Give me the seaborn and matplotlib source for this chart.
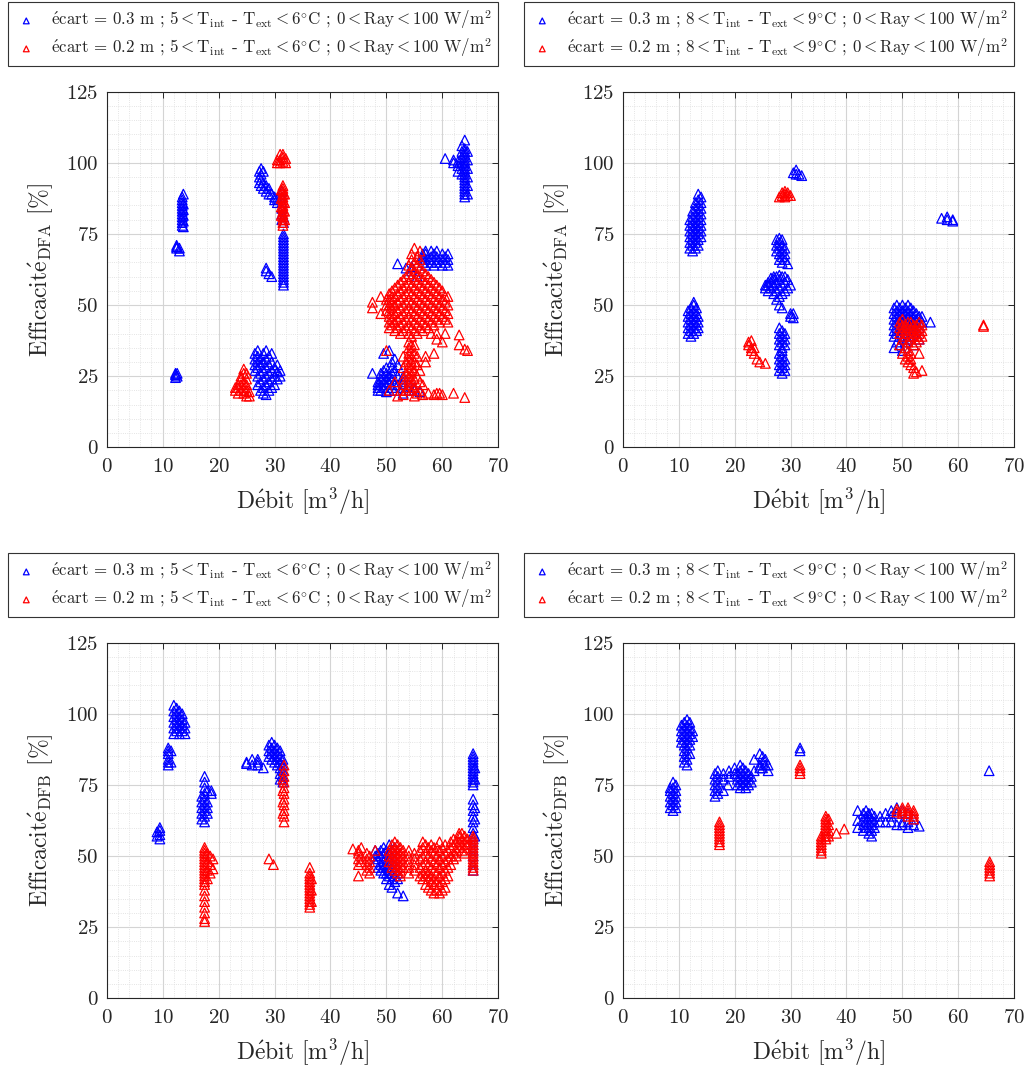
import matplotlib
matplotlib.use("Agg")
import matplotlib.pyplot as plt
from matplotlib.ticker import MultipleLocator
import pandas as pd
import seaborn as sns

# Données : (débit, [efficacités...]) par colonne de points
# DFA, 5 < Tint - Text < 6 °C
dfa_a_blue = [
    (12.3, [24.5, 25.5, 26]), (12.6, [25, 26]),
    (12.5, [70, 70.5, 71]), (13.0, [69, 70]),
    (13.5, [78, 79, 80, 81, 82, 83, 84, 85, 86, 87, 88]),
    (13.7, [77.5, 79.5, 81.5, 83.5, 85.5, 89]),
    (27.3, [97, 95, 93]), (27.6, [98, 96, 94, 92]), (28.0, [97, 93, 91]),
    (28.5, [92, 90, 62, 63]), (29.0, [91, 89, 61]), (29.5, [89, 60]),
    (30.0, [88, 87]), (30.5, [87.5, 86]),
    (31.3, [80, 82, 84, 86, 88, 90]),
    (31.6, [57, 58, 59, 60, 61, 62, 63, 64, 65, 66, 67, 68, 69, 70, 71, 72, 73, 74, 75, 79, 81]),
    (26.5, [27, 29, 31, 33]), (27.0, [22, 25, 28, 30, 32, 34]),
    (27.5, [20, 23, 26, 29, 31]), (28.0, [19, 21, 24, 27, 30, 33]),
    (28.5, [18.5, 22, 25, 28, 31, 34]), (29.0, [20, 23, 26, 29, 32]),
    (29.5, [21, 24, 27, 30, 33]), (30.0, [22, 25, 28]),
    (30.5, [24, 26.5, 29]), (31.0, [25, 27]),
    (60.5, [101.5]), (62.0, [101, 100]), (62.8, [100.5, 99, 97]),
    (63.5, [96, 98, 100, 102, 104, 106]),
    (64.0, [88, 89, 90, 91, 92, 93, 94, 95, 96, 97, 98, 99, 100, 101, 102, 103, 104, 105, 108]),
    (64.5, [89, 92, 95, 98, 101, 104]),
    (56.5, [65, 66, 67, 68]), (57.0, [64, 66, 68, 69]), (58.0, [65, 67, 69]),
    (58.5, [64, 66, 68]), (59.0, [65, 67, 69]), (60.0, [64, 66, 68]),
    (60.5, [65, 67]), (61.0, [64, 66, 68]),
    (52.0, [64.5]), (53.5, [63]), (54.5, [62, 63.5]), (55.5, [60]),
    (47.5, [26]), (48.5, [20, 21, 22, 23]), (49.0, [20, 22, 24, 26]),
    (49.5, [21, 23, 25, 27, 33]), (50.0, [19.5, 22, 24, 26, 28]),
    (50.5, [20, 23, 25, 34]), (51.0, [21, 24, 26, 28, 30]),
    (51.5, [20, 22, 27, 31]), (52.0, [22, 25, 29]),
    (53.0, [19, 21, 23, 25]), (54.0, [20, 22]), (55.0, [20, 21]), (56.0, [19.5]),
]
dfa_a_red = [
    (30.5, [101, 100]), (31.0, [103, 101, 100]), (31.5, [102, 100.5, 103]), (32.0, [101.5, 100]),
    (31.5, [78, 79, 80, 81, 82, 83, 84, 85, 86, 87, 88, 89, 90, 91, 92]),
    (31.8, [80, 83, 86, 89]), (31.2, [81.5, 84.5, 87.5, 90.5]),
    (23.0, [20, 21]), (23.5, [19, 21, 22]), (24.0, [20, 22, 24, 25]),
    (24.5, [19, 21, 23, 26, 27.5]), (25.0, [18, 20, 22, 24, 26]), (25.5, [18, 19.5]),
    (47.5, [51, 49]), (49.0, [53, 47]),
    (50.0, [34, 48, 50, 52]), (50.5, [42, 44, 46, 48, 50, 52, 54, 20]),
    (51.0, [43, 45, 47, 49, 51, 53, 55]), (51.5, [41, 44, 47, 50, 53, 56, 23]),
    (52.0, [42, 45, 48, 51, 54, 57, 18]), (52.5, [40, 43, 46, 49, 52, 55, 58, 20]),
    (53.0, [41, 44, 47, 50, 53, 56, 59, 18.5, 22, 24, 28, 32]),
    (53.5, [42, 45, 48, 51, 54, 57, 60, 20, 26, 30]),
    (54.0, [40, 43, 46, 49, 52, 55, 58, 61, 64, 21, 23, 25, 27, 29, 31, 33, 35, 37]),
    (54.5, [39, 42, 45, 48, 51, 54, 57, 60, 63, 66, 68, 20, 22, 24, 26, 28, 30, 32, 34, 36]),
    (55.0, [41, 44, 47, 50, 53, 56, 59, 62, 65, 70, 18, 21, 24, 27, 30, 33, 36]),
    (55.5, [40, 43, 46, 49, 52, 55, 58, 61, 64, 67, 19, 25, 29, 32]),
    (56.0, [42, 45, 48, 51, 54, 57, 60, 63, 66, 69, 20, 23, 27]),
    (56.5, [41, 44, 47, 50, 53, 56, 59, 62, 18.5, 22]),
    (57.0, [43, 46, 49, 52, 55, 58, 61, 30, 32]),
    (57.5, [42, 45, 48, 51, 54, 57, 60, 19]),
    (58.0, [44, 47, 50, 53, 56, 59, 40]),
    (58.5, [43, 46, 49, 52, 55, 58, 18.5, 33]),
    (59.0, [45, 48, 51, 54, 57, 40, 38, 19]),
    (59.5, [44, 47, 50, 53, 56, 19]), (60.0, [46, 49, 52, 55, 37, 18.5]),
    (60.5, [45, 48, 51, 53, 40]), (61.0, [44, 47, 50, 53]),
    (62.0, [19]), (63.0, [39.5, 36]), (64.0, [34.5, 17.5]), (64.5, [34]),
]

# DFA, 8 < Tint - Text < 9 °C
dfa_b_blue = [
    (12.0, [70, 72, 74, 76, 78, 80]), (12.5, [69, 71, 73, 75, 77, 79, 81, 83]),
    (13.0, [70, 72, 74, 76, 78, 80, 82, 84, 86]),
    (13.5, [71, 73, 75, 77, 79, 81, 83, 85, 87, 89]),
    (14.0, [74, 76, 78, 80, 82, 84, 86, 88]),
    (11.7, [40, 42, 44, 46, 48]), (12.2, [39, 41, 43, 45, 47, 49]),
    (12.7, [40, 42, 44, 46, 48, 50, 51]), (13.2, [41, 43, 45, 47, 49]), (13.5, [42, 44, 46]),
    (27.5, [71, 73, 69]), (28.0, [66, 68, 70, 72, 73.5]), (28.5, [65, 67, 69, 71, 73]),
    (29.0, [66, 68, 70]), (29.5, [64.5]),
    (25.5, [56, 57]), (26.0, [55, 57, 58]), (26.5, [56, 58, 59.5]),
    (27.0, [54, 57, 59, 60]), (27.5, [52, 55, 58, 60]), (28.0, [50, 53, 56, 59, 60.5]),
    (28.5, [49, 54, 57, 60]), (29.0, [55, 58, 60]), (29.5, [56, 59]),
    (30.0, [47, 46, 57]), (30.5, [45.5, 47]),
    (28.0, [36, 38, 40, 42]), (28.5, [35, 37, 39, 41]), (29.0, [36, 38, 40]),
    (28.0, [27, 29, 31, 33]), (28.5, [26, 28, 30, 32, 34]), (29.0, [27, 29, 31]),
    (30.5, [96.5]), (31.0, [96, 97.5]), (31.5, [96]), (32.0, [95.5]),
    (57.0, [80.5]), (58.0, [81, 80]), (59.0, [80, 79.5]),
    (48.5, [35, 39, 41, 43, 45, 47, 49]), (49.0, [37, 40, 42, 44, 46, 48, 50]),
    (49.5, [36, 39, 41, 43, 45, 47, 49]), (50.0, [34, 38, 40, 42, 44, 46, 48, 50]),
    (50.5, [35, 37, 39, 41, 43, 45, 47, 49]), (51.0, [38, 40, 42, 44, 46, 48, 50]),
    (51.5, [39, 41, 43, 45, 47, 49]), (52.0, [36, 40, 42, 44, 46, 48]),
    (52.5, [41, 43, 45, 47]), (53.0, [38, 42, 44, 46]), (53.5, [44, 46]), (55.0, [44]),
]
dfa_b_red = [
    (28.0, [88]), (28.5, [88.5, 89.5]), (29.0, [88, 89, 90]), (29.5, [88.5, 89.5]), (30.0, [88.5]),
    (22.5, [37, 36]), (23.0, [35, 37.5, 34]), (23.5, [33, 35]), (24.0, [31]), (24.5, [30]), (25.5, [29.5]),
    (49.5, [36, 40, 42, 44]), (50.0, [33, 38, 41, 43, 45]), (50.5, [31, 35, 39, 41, 43]),
    (51.0, [30, 32, 34, 37, 40, 42, 44]), (51.5, [29, 31, 33, 38, 40, 42, 44]),
    (52.0, [26, 28, 36, 39, 41, 43]), (52.5, [26.5, 37, 39, 41, 43]),
    (53.0, [38, 40, 42, 44, 33]), (53.5, [39, 41, 43, 27]),
    (64.5, [42.5, 43]),
]

# DFB, 5 < Tint - Text < 6 °C
dfb_a_blue = [
    (9.0, [57, 58.5]), (9.5, [56, 57.5, 59, 60]),
    (11.0, [82, 83, 84, 86, 87, 88]), (11.5, [83, 87]),
    (12.0, [93, 95, 97, 99, 101, 103]), (12.5, [94, 96, 98, 100, 102]),
    (13.0, [93, 95, 97, 99, 101]), (13.5, [94, 96, 98, 100]), (14.0, [93, 95, 97]),
    (17.0, [63, 65, 67, 69, 71]), (17.5, [62, 64, 66, 68, 70, 72, 74, 76, 78]),
    (18.0, [65, 67, 69, 73]), (18.7, [72, 73]),
    (25.0, [82.5, 83]), (26.0, [82, 84]), (27.0, [83, 84, 82]), (28.0, [81]),
    (29.0, [85, 87, 89]), (29.5, [84, 86, 88, 90]), (30.0, [83, 85, 87, 89]),
    (30.5, [82, 84, 86, 88]), (31.0, [77, 79, 81, 83, 85, 87]), (31.5, [76, 78, 80, 82, 84]),
    (48.0, [48, 50, 52]), (48.5, [46, 49, 51]), (49.0, [45, 47, 50, 52]),
    (49.5, [44, 46, 48, 51, 53]), (50.0, [42, 44, 46, 48, 50, 52]),
    (50.5, [40, 43, 45, 47, 49, 51, 54]), (51.0, [39, 42, 44, 46, 48, 50, 52]),
    (51.5, [41, 43, 45, 47, 49, 53]), (52.0, [37, 42, 44, 46]), (53.0, [36]),
    (65.5, [45, 47, 50, 52, 54, 56, 58, 60, 62, 64, 66, 68, 70, 75, 76, 77, 78, 79, 80, 81, 82, 83, 84, 85, 86]),
    (65.8, [57, 63, 67, 77, 81]),
]
dfb_a_red = [
    (17.5, [27, 28, 30, 32, 34, 36, 38, 40, 41, 42, 43, 44, 45, 46, 47, 48, 49, 50, 51, 52, 53]),
    (18.0, [42, 45, 48, 51]), (18.5, [44, 47, 50]), (19.0, [45.5, 49]),
    (29.0, [49]), (29.8, [47]),
    (31.7, [62, 64, 66, 68, 70, 72, 74, 76, 78, 80, 82]), (31.5, [65, 69, 73, 77]),
    (36.3, [32, 33, 34, 35, 36, 37, 38, 39, 40, 41, 42, 43, 44, 46]), (36.6, [34, 38, 42]),
    (44.0, [52.5]), (45.0, [43, 47, 49, 51, 52]), (45.5, [48, 50, 53]),
    (46.5, [45, 47, 49, 51]), (47.0, [44, 46, 48, 50]), (48.0, [52]),
    (50.5, [48, 50, 52]), (51.0, [46, 48, 50, 52, 54]), (51.5, [45, 47, 49, 51, 53, 55]),
    (52.0, [44, 46, 48, 50, 52, 54]), (52.5, [43, 45, 47, 49, 51, 53]),
    (53.0, [46, 48, 50, 52]), (54.0, [44, 46, 48, 50, 52]), (55.0, [45, 47, 49, 51]),
    (56.0, [43, 46, 49, 52]), (56.5, [42, 44, 47, 50, 53, 55]),
    (57.0, [40, 43, 45, 48, 51, 54]), (57.5, [39, 42, 44, 47, 50, 53]),
    (58.0, [38, 41, 43, 46, 49, 52, 54]), (58.5, [37, 40, 42, 45, 48, 51, 53]),
    (59.0, [38, 41, 44, 47, 50, 53]), (59.5, [37, 40, 43, 46, 49, 52, 55]),
    (60.0, [38, 41, 44, 47, 50, 53]), (60.5, [39, 42, 45, 48, 51, 54]),
    (61.0, [43, 46, 49, 52]), (61.5, [47, 50, 53, 55]), (62.0, [49, 51, 54, 56]),
    (62.5, [50, 52, 55]), (63.0, [53, 55, 57, 58]), (63.5, [52, 54, 56, 58]),
    (64.0, [51, 53, 55, 57]), (64.5, [54, 56]),
    (65.5, [45, 46, 47, 48, 49, 50, 51, 52, 53, 54, 55, 56, 57]),
]

# DFB, 8 < Tint - Text < 9 °C
dfb_b_blue = [
    (8.5, [67, 69, 71, 73, 74]), (9.0, [66, 68, 70, 72, 74, 76]), (9.5, [67, 69, 71, 73, 75]),
    (10.5, [90, 92, 94, 96]), (11.0, [83, 85, 87, 89, 91, 93, 95, 97]),
    (11.5, [82, 84, 86, 88, 90, 92, 94, 96, 98]), (12.0, [86, 89, 91, 93, 95, 97]), (12.5, [92, 94]),
    (16.5, [71, 73, 75, 77, 79]), (17.0, [72, 74, 76, 78, 80]), (18.0, [73, 77, 79]),
    (18.8, [75]), (19.0, [78, 80]), (20.0, [79, 81]), (20.5, [75, 77, 79]),
    (21.0, [74, 76, 78, 80, 82]), (21.5, [75, 77, 79, 81]), (22.0, [74, 76, 78, 80]),
    (22.5, [75, 77, 79]), (23.0, [76, 78]),
    (23.5, [84, 80]), (24.5, [86, 82, 81]), (25.0, [81, 83, 85]), (25.5, [82, 84]), (26.0, [80, 82]),
    (31.7, [87, 88]),
    (42.0, [60, 62.5, 66]), (43.0, [59, 61, 63, 65]), (43.5, [60, 62, 64, 66]),
    (44.0, [58, 60, 62, 64, 65]), (44.5, [57, 59, 61, 63, 65]), (45.0, [60, 62, 64]),
    (46.0, [62, 64]), (47.0, [62, 65]), (48.0, [64, 66, 62]), (49.0, [61, 65, 67]),
    (50.0, [62, 66, 61]), (51.0, [60, 62, 65]), (52.0, [61, 63]), (53.0, [60.5]),
    (65.5, [80]),
]
dfb_b_red = [
    (17.3, [54, 55, 56, 57, 58, 59, 60, 61, 62]),
    (31.7, [79, 80, 81, 82]),
    (35.5, [51, 52, 53, 54, 55, 56, 57]), (36.3, [56, 57, 58, 59, 60, 61, 62, 63, 64]),
    (36.8, [57, 59, 61, 63]), (38.2, [58]), (39.6, [59.5]),
    (49.0, [65.5, 66.5]), (50.0, [66, 67, 65]), (51.0, [64, 65, 66, 67]), (52.0, [63, 64, 65, 66]),
    (65.6, [43, 44, 45, 46, 47, 48]),
]

E = "$\\mathrm{\\acute{e}}$"
labels_a = [
    E + "cart = 0.3 m ; 5$<$T$_{\\rm int}$ - T$_{\\rm ext}$$<$6$^{\\circ}$C ; 0$<$Ray$<$100 W/m$^{2}$",
    E + "cart = 0.2 m ; 5$<$T$_{\\rm int}$ - T$_{\\rm ext}$$<$6$^{\\circ}$C ; 0$<$Ray$<$100 W/m$^{2}$",
]
labels_b = [
    E + "cart = 0.3 m ; 8$<$T$_{\\rm int}$ - T$_{\\rm ext}$$<$9$^{\\circ}$C ; 0$<$Ray$<$100 W/m$^{2}$",
    E + "cart = 0.2 m ; 8$<$T$_{\\rm int}$ - T$_{\\rm ext}$$<$9$^{\\circ}$C ; 0$<$Ray$<$100 W/m$^{2}$",
]
xlabel = "D" + E + "bit [m$^{3}$/h]"


def to_frame(columns):
    rows = [(x, y) for x, ys in columns for y in ys]
    return pd.DataFrame(rows, columns=["debit", "eff"])


sns.set_style("white")
plt.rcParams["font.family"] = ["cmr10", "DejaVu Serif"]
plt.rcParams["mathtext.fontset"] = "cm"
plt.rcParams["axes.formatter.use_mathtext"] = True
plt.rcParams["axes.unicode_minus"] = False

fig = plt.figure(figsize=(10.29, 10.72), dpi=100)
W, H = 1029, 1072
panels = [
    (106.7, 91.7, dfa_a_blue, dfa_a_red, labels_a, "DFA"),
    (622.7, 91.7, dfa_b_blue, dfa_b_red, labels_b, "DFA"),
    (106.7, 642.7, dfb_a_blue, dfb_a_red, labels_a, "DFB"),
    (622.7, 642.7, dfb_b_blue, dfb_b_red, labels_b, "DFB"),
]

for left, top, blue, red, labels, kind in panels:
    ax = fig.add_axes([left / W, 1 - (top + 355.6) / H, 391.6 / W, 355.6 / H])
    for cols, color, lab in [(blue, "#0000ff", labels[0]), (red, "#ff0000", labels[1])]:
        df = to_frame(cols)
        sns.scatterplot(data=df, x="debit", y="eff", marker="^", s=48, color=color,
                        linewidth=0.9, label=lab, ax=ax, legend=False)
        pts = ax.collections[-1]
        pts.set_facecolor("none")
        pts.set_edgecolor(color)

    ax.set_xlim(0, 70)
    ax.set_ylim(0, 125)
    ax.xaxis.set_major_locator(MultipleLocator(10))
    ax.xaxis.set_minor_locator(MultipleLocator(2))
    ax.yaxis.set_major_locator(MultipleLocator(25))
    ax.yaxis.set_minor_locator(MultipleLocator(5))
    ax.set_axisbelow(True)
    ax.grid(which="major", color="#d4d4d4", lw=0.8)
    ax.grid(which="minor", color="#dcdcdc", lw=0.6, ls=":")
    ax.tick_params(which="major", direction="in", top=True, right=True,
                   length=4, width=0.7, labelsize=15)
    ax.tick_params(axis="x", which="major", pad=8)
    ax.tick_params(axis="y", which="major", pad=6)
    ax.tick_params(which="minor", length=0)
    for sp in ax.spines.values():
        sp.set_color("#262626")
        sp.set_linewidth(0.8)

    ax.set_xlabel(xlabel, fontsize=17, labelpad=7)
    ax.set_ylabel("Efficacit" + "$\\mathrm{\\acute{e}}_{\\rm " + kind + "}$ [%]", fontsize=17, labelpad=8)

    leg = ax.legend(loc="lower right", bbox_to_anchor=(1.0, 1.072), borderaxespad=0,
                    fontsize=12.2, frameon=True, fancybox=False, framealpha=1,
                    edgecolor="#333333", handletextpad=0.8, handlelength=1.3,
                    markerscale=0.6, borderpad=0.4, labelspacing=0.3)
    leg.get_frame().set_linewidth(0.8)

fig.savefig("out.png", dpi=100)
